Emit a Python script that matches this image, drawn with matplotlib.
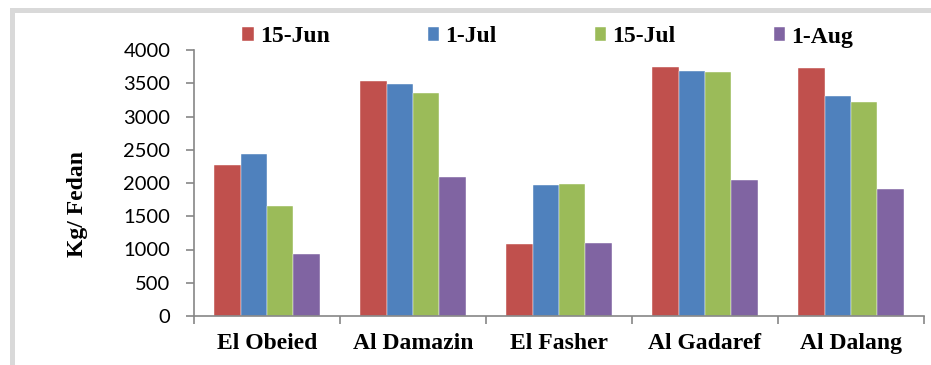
import matplotlib
matplotlib.use('Agg')
import matplotlib.pyplot as plt
import numpy as np
from matplotlib.patches import Rectangle

# yield per site at each sowing date
sites = ['El Obeied', 'Al Damazin', 'El Fasher', 'Al Gadaref', 'Al Dalang']
dates = ['15-Jun', '1-Jul', '15-Jul', '1-Aug']
jun_15 = [2265, 3535, 1085, 3740, 3735]
jul_1 = [2430, 3485, 1970, 3680, 3305]
jul_15 = [1655, 3350, 1990, 3665, 3225]
aug_1 = [935, 2090, 1100, 2050, 1915]
colors = ['#C0504D', '#4F81BD', '#9BBB59', '#8064A2']

bold_serif = dict(family='Liberation Serif', weight='bold')

fig = plt.figure(figsize=(9.31, 3.65), dpi=100)
ax = fig.add_axes([194 / 931, 1 - 316 / 365, 730 / 931, 266 / 365])

x = np.arange(len(sites))
w = 0.1815
for j, (vals, label) in enumerate(zip([jun_15, jul_1, jul_15, aug_1], dates)):
    ax.bar(x + (j - 1.5) * w, vals, width=w, color=colors[j], label=label,
           edgecolor='white', linewidth=0.3)

ax.set_xlim(-0.5, len(sites) - 0.5)
ax.set_ylim(0, 4000)
ax.set_yticks(range(0, 4001, 500))
ax.tick_params(axis='y', length=6, width=1.2, color='#868686', pad=11,
               labelsize=14.5)
for lbl in ax.get_yticklabels():
    lbl.set_family('Lato')

ax.set_xticks(np.arange(-0.5, len(sites), 1.0))
ax.set_xticklabels([])
ax.set_xticks(x, minor=True)
ax.set_xticklabels(sites, minor=True, fontsize=17, **bold_serif)
ax.tick_params(axis='x', which='major', length=6, width=1.2, color='#868686')
ax.tick_params(axis='x', which='minor', length=0, pad=12)

for side in ['top', 'right']:
    ax.spines[side].set_visible(False)
for side in ['left', 'bottom']:
    ax.spines[side].set_color('#868686')
    ax.spines[side].set_linewidth(1.2)

fig.text(77 / 931, 1 - 204 / 365, 'Kg/ Fedan', rotation=90, ha='center',
         va='center', fontsize=17, **bold_serif)

fig.legend(loc='center left', bbox_to_anchor=(242 / 931, 1 - 37 / 365),
           ncol=4, frameon=False, borderaxespad=0, borderpad=0,
           handlelength=0.5, handleheight=0.5, handletextpad=0.25,
           columnspacing=4.15, prop=dict(size=17, **bold_serif))

# outer chart frame
fig.patches.append(Rectangle((11.5 / 931, -0.1), 1.1, 1 - 9.5 / 365 + 0.1,
                             transform=fig.transFigure, fill=False,
                             edgecolor='#D9D9D9', linewidth=3.6))

fig.savefig('out.png', dpi=100)
